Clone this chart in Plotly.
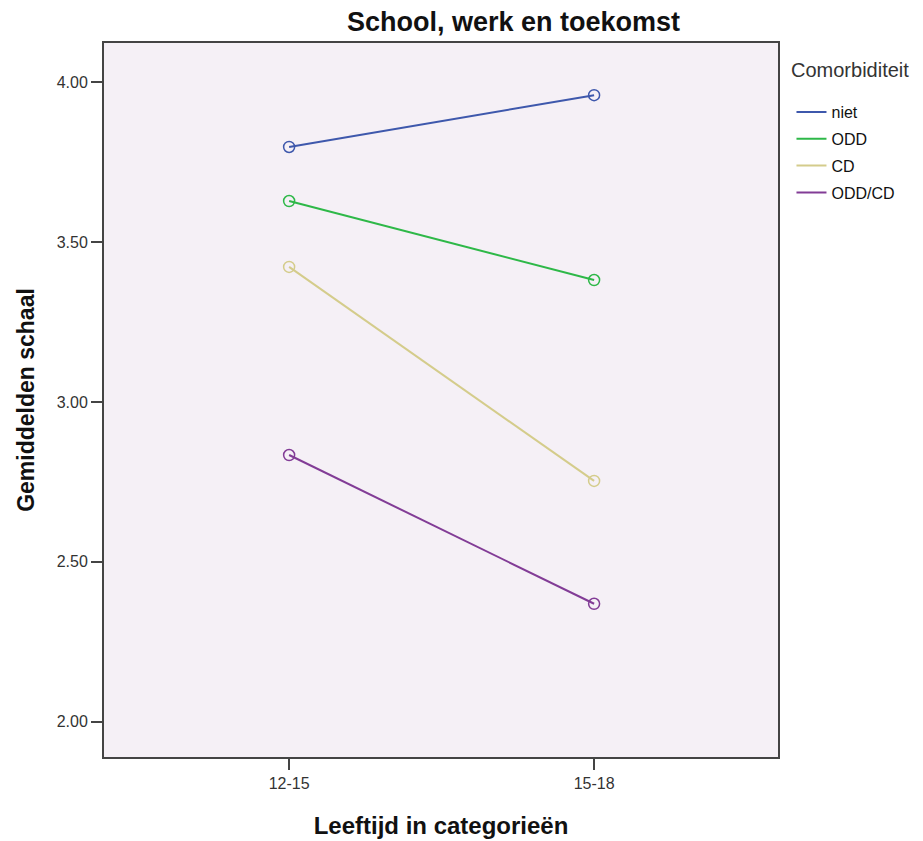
import plotly.graph_objects as go

categories = ["12-15", "15-18"]
series_names = ["niet", "ODD", "CD", "ODD/CD"]
niet = [3.797, 3.959]
odd = [3.628, 3.381]
cd = [3.422, 2.753]
odd_cd = [2.834, 2.369]
colors = ["#3e58ac", "#2eb848", "#d4cc8b", "#823c96"]
y_ticks = [2.0, 2.5, 3.0, 3.5, 4.0]
y_ticklabels = ["2.00", "2.50", "3.00", "3.50", "4.00"]

values = [niet, odd, cd, odd_cd]
xnum = list(range(len(categories)))

fig = go.Figure()
for name, vals, col in zip(series_names, values, colors):
    fig.add_trace(go.Scatter(
        x=xnum, y=vals, mode="lines", name=name,
        line=dict(color=col, width=2), legendgroup=name, showlegend=True,
        hoverinfo="skip"))
    fig.add_trace(go.Scatter(
        x=xnum, y=vals, mode="markers", name=name,
        marker=dict(symbol="circle-open", size=11, color=col, line=dict(width=1.5, color=col)),
        legendgroup=name, showlegend=False))

font_family = "Liberation Sans, Arial, sans-serif"
fig.update_layout(
    width=923, height=841,
    margin=dict(l=96, r=153, t=35, b=92),
    paper_bgcolor="white",
    plot_bgcolor="#f5f0f6",
    font=dict(family=font_family, color="#222222"),
    title=dict(text="<b>School, werk en toekomst</b>", x=505.5 / 923, xanchor="center",
               y=1 - 14 / 841, yanchor="middle", font=dict(size=27, color="#111111")),
    showlegend=True,
    legend=dict(
        x=1.02, xanchor="left", y=0.927, yanchor="top",
        font=dict(size=16, color="#111111"),
        tracegroupgap=3, bgcolor="rgba(0,0,0,0)", itemwidth=30,
    ),
    annotations=[dict(
        text="Comorbiditeit", xref="paper", yref="paper", x=1.016, y=0.962,
        xanchor="left", yanchor="middle", showarrow=False,
        font=dict(size=20, color="#333333"))],
    xaxis=dict(
        range=[-0.607, 1.603], automargin=False,
        tickmode="array", tickvals=xnum, ticktext=categories,
        ticks="outside", ticklen=11, tickwidth=1.5, tickcolor="#444444",
        showgrid=False, zeroline=False,
        showline=True, linecolor="#444444", linewidth=2, mirror=True,
        tickfont=dict(size=16, color="#333333"),
        title=dict(text="<b>Leeftijd in categorieën</b>", font=dict(size=24, color="#111111"), standoff=26),
    ),
    yaxis=dict(
        range=[1.89, 4.122], automargin=False,
        tickmode="array", tickvals=y_ticks, ticktext=y_ticklabels,
        ticks="outside", ticklen=11, tickwidth=1.5, tickcolor="#444444",
        showgrid=False, zeroline=False,
        showline=True, linecolor="#444444", linewidth=2, mirror=True,
        tickfont=dict(size=16, color="#333333"),
        title=dict(text="<b>Gemiddelden schaal</b>", font=dict(size=23, color="#111111"), standoff=16),
    ),
)

fig.write_html("out.html")
